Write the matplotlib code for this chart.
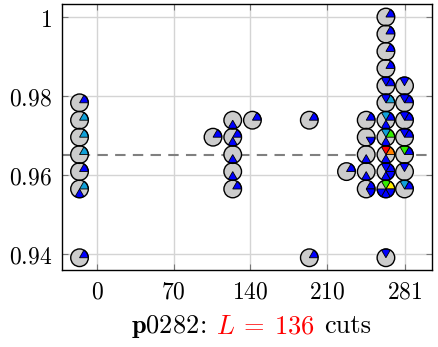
import matplotlib
matplotlib.use("Agg")
import matplotlib.pyplot as plt
import matplotlib.transforms as mtransforms
from matplotlib.patches import Wedge, Circle

plt.rcParams['mathtext.fontset'] = 'cm'

# pie columns: x position, y values, and one string per pie (colour of sectors 0..5, '.' = grey)
col_x = [-16, 106, 124, 142, 194, 228, 246, 264, 281]
col_y = [
    [0.9783, 0.9739, 0.9696, 0.9652, 0.9609, 0.9565, 0.9391],
    [0.9696],
    [0.9739, 0.9696, 0.9652, 0.9609, 0.9565],
    [0.9739],
    [0.9739, 0.9391],
    [0.9609],
    [0.9739, 0.9696, 0.9652, 0.9609, 0.9565],
    [1.0, 0.9957, 0.9913, 0.9870, 0.9826, 0.9783, 0.9739, 0.9696, 0.9652, 0.9609, 0.9565, 0.9391],
    [0.9826, 0.9783, 0.9739, 0.9696, 0.9652, 0.9609, 0.9565],
]
col_pies = [
    ["b.....", "c.....", "c.....", "c.....", "b.....", "c...b.", "b....."],
    ["b....."],
    ["....b.", "b...b.", "....b.", "....b.", "b....."],
    ["b....."],
    ["b.....", "b....."],
    ["b....."],
    ["b.....", ".....b", "....b.", "....b.", "b....b"],
    ["b.....", "b.....", "b.....", "b.....", "bb....", "cb....", "bc..b.",
     "gc..b.", "or..b.", "bb..bb", "yg.bbb", ".b...."],
    [".b....", "bb....", "bb....", "bb....", "bg....", ".b....", "bc...."],
]
mean_line = 0.965

xticks = [0, 70, 140, 210, 281]
yticks = [0.94, 0.96, 0.98, 1.0]
ytick_labels = ['$0.94$', '$0.96$', '$0.98$', '$1$']

colors = {'b': '#0000ff', 'c': '#10a0d8', 'g': '#33ee00', 'y': '#ffee00',
          'o': '#ff8000', 'r': '#ff0000'}

fig = plt.figure(figsize=(4.38, 3.47), dpi=100)
ax = fig.add_axes([0.1416, 0.2219, 0.8444, 0.7666])
ax.set_xlim(-32, 306)
ax.set_ylim(0.9360, 1.0033)

ax.set_xticks(xticks)
ax.set_xticklabels(['$%d$' % t for t in xticks])
ax.set_yticks(yticks)
ax.set_yticklabels(ytick_labels)
ax.tick_params(direction='in', length=4, color='#777777', labelsize=17,
               top=True, right=True, pad=7)
ax.grid(True, color='#d4d4d4', linewidth=1.0, zorder=0)
ax.set_axisbelow(True)
for s in ax.spines.values():
    s.set_linewidth(1.0)

ax.axhline(mean_line, color='#808080', linestyle=(0, (5, 3.5)), linewidth=1.5, zorder=1)

r = 0.088  # pie radius in inches
for x, ys, pies in zip(col_x, col_y, col_pies):
    for y, pie in zip(ys, pies):
        tr = fig.dpi_scale_trans + mtransforms.ScaledTranslation(x, y, ax.transData)
        ax.add_patch(Circle((0, 0), r, facecolor='#cccccc', edgecolor='none',
                            transform=tr, zorder=3))
        for i, ch in enumerate(pie):
            if ch == '.':
                continue
            ax.add_patch(Wedge((0, 0), r, 60 * i, 60 * (i + 1), facecolor=colors[ch],
                               edgecolor='black', linewidth=0.6, transform=tr, zorder=4))
        ax.add_patch(Circle((0, 0), r, facecolor='none', edgecolor='black',
                            linewidth=1.0, transform=tr, zorder=5))

# x label in pieces so part of it can be red; (text, colour, family, gap after in px)
parts = [(r'$\mathbf{p0282}$', 'black', None, 1), (':', 'black', 'cmr10', 9),
         (r'$L\:=\:136$', 'red', None, 9), ('cuts', 'black', 'cmr10', 0)]
fig.canvas.draw()
renderer = fig.canvas.get_renderer()
texts = []
widths = []
for s, c, fam, g in parts:
    t = fig.text(0, 0, s, color=c, fontsize=19, va='baseline', ha='left')
    if fam:
        t.set_fontfamily(fam)
    texts.append(t)
    widths.append(t.get_window_extent(renderer).width)
total = sum(widths) + sum(p[3] for p in parts)
fw, fh = fig.bbox.width, fig.bbox.height
ax_bb = ax.get_window_extent(renderer)
xpos = (ax_bb.x0 + ax_bb.x1) / 2 - total / 2 + 4
base_y = fh - 333
for t, w, p in zip(texts, widths, parts):
    t.set_position((xpos / fw, base_y / fh))
    xpos += w + p[3]

fig.savefig('out.png', dpi=100)
